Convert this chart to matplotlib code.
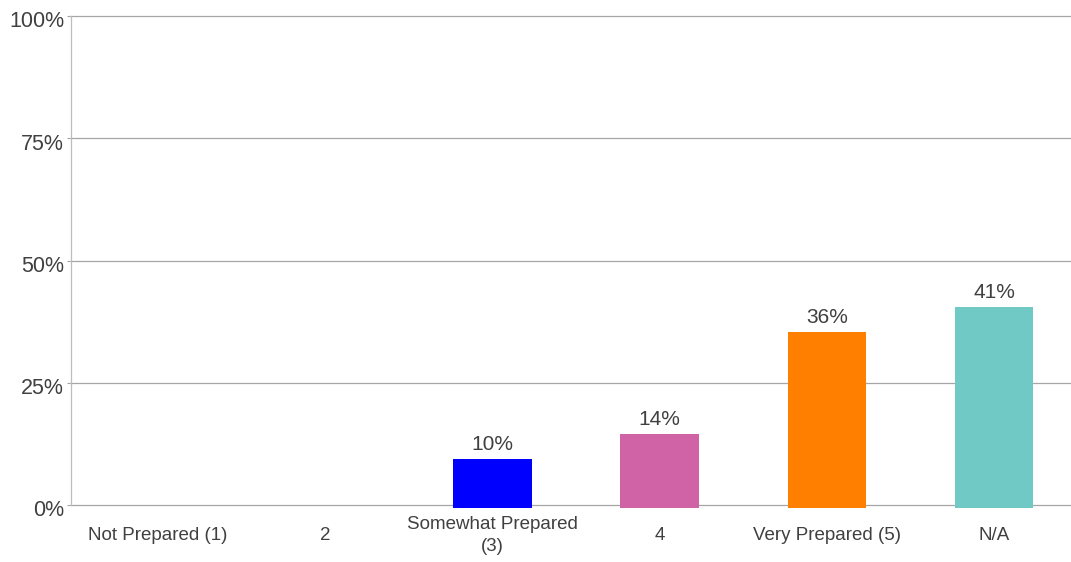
import matplotlib
matplotlib.use("Agg")
import matplotlib.pyplot as plt
from matplotlib.ticker import FixedLocator
from matplotlib.transforms import ScaledTranslation

categories = ["Not Prepared (1)", "2", "Somewhat Prepared\n(3)", "4", "Very Prepared (5)", "N/A"]
values = [0.0, 0.0, 9.5, 14.5, 35.4, 40.5]
value_labels = ["", "", "10%", "14%", "36%", "41%"]
colors = ["#3366cc", "#dc3912", "#0000ff", "#d063a5", "#ff7f00", "#71c9c6"]
yticks = [0, 25, 50, 75, 100]
ytick_labels = ["0%", "25%", "50%", "75%", "100%"]

plt.rcParams["font.family"] = ["Liberation Sans", "DejaVu Sans"]
text_color = "#404040"
grid_color = "#a6a6a6"

W, H = 1071, 562
fig = plt.figure(figsize=(W / 100, H / 100), dpi=100)
left_px, right_px, top_px, bottom_px = 71, 1071, 16, 505
ax = fig.add_axes([left_px / W, (H - bottom_px) / H, (right_px - left_px) / W, (bottom_px - top_px) / H])

x = list(range(len(categories)))
bottom_off = 0.6
bars = ax.bar(x, [v + bottom_off if v > 0 else 0 for v in values], bottom=-bottom_off, width=0.47,
              color=colors, zorder=3, clip_on=False)
for xi, v, lab in zip(x, values, value_labels):
    if lab:
        ax.annotate(lab, (xi, v), xytext=(0, 6.5), textcoords="offset points",
                    ha="center", va="baseline", fontsize=15, color=text_color)

ax.set_xlim(-0.52, 5.46)
ax.set_ylim(0, 100)
ax.yaxis.set_major_locator(FixedLocator(yticks))
ax.set_yticklabels(ytick_labels)
ax.set_xticks(x)
ax.set_xticklabels(categories, fontsize=13.5, color=text_color, linespacing=1.35)
for t in ax.get_xticklabels():
    t.set_verticalalignment("center")
ax.tick_params(axis="x", length=0, pad=22)
ax.tick_params(axis="y", length=3, width=0.8, color=grid_color, pad=2, labelsize=15.5, labelcolor=text_color)
shift = ScaledTranslation(0, -2.5 / 72, fig.dpi_scale_trans)
for t in ax.get_yticklabels():
    t.set_transform(t.get_transform() + shift)

ax.grid(axis="y", color=grid_color, linewidth=0.9, zorder=0)
for gl in ax.get_ygridlines():
    gl.set_clip_on(False)
ax.set_axisbelow(True)
for s in ["top", "right", "bottom"]:
    ax.spines[s].set_visible(False)
ax.spines["left"].set_color("#bdbdbd")
ax.spines["left"].set_linewidth(0.9)

fig.savefig("out.png", dpi=100)
